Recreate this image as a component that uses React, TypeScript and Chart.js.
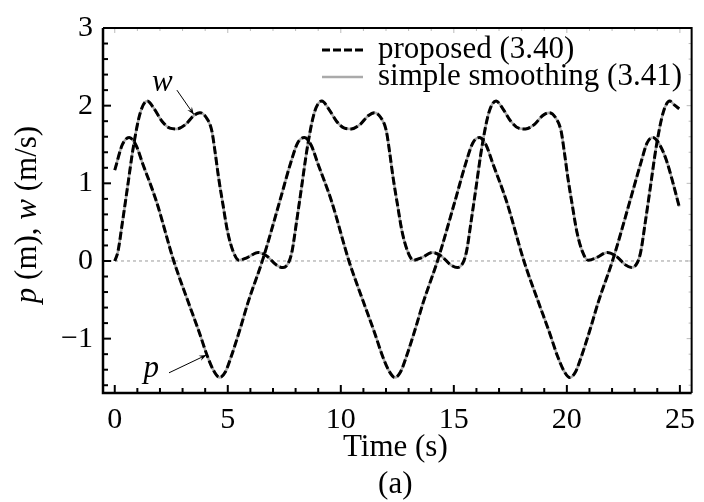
import React, { useEffect, useRef } from 'react';
import { Chart, registerables } from 'chart.js';

Chart.register(...registerables);

// ---- data ----
const P_TIME = [0, 0.34, 0.64, 0.94, 1.24, 1.84, 2.61, 3.24, 3.74, 4.09, 4.39, 4.64, 4.89, 5.14, 5.54, 5.9, 6.56, 7.29, 7.79, 8.09,
  8.39, 8.69, 8.99, 9.59, 10.36, 10.99, 11.49, 11.84, 12.14, 12.39, 12.64, 12.89, 13.29, 13.65, 14.31, 15.04, 15.54, 15.84,
  16.13, 16.43, 16.73, 17.33, 18.1, 18.73, 19.23, 19.58, 19.88, 20.13, 20.38, 20.63, 21.03, 21.39, 22.05, 22.78, 23.28, 23.55,
  23.8, 24.1, 24.4, 24.7, 24.97];
const P_VALUE = [1.17, 1.5, 1.59, 1.49, 1.25, 0.77, 0, -0.52, -0.92, -1.22, -1.42, -1.5, -1.43, -1.24, -0.88, -0.53, 0.03, 0.76, 1.27, 1.52,
  1.59, 1.49, 1.25, 0.77, 0, -0.52, -0.92, -1.22, -1.42, -1.5, -1.43, -1.24, -0.88, -0.53, 0.03, 0.76, 1.27, 1.52,
  1.59, 1.49, 1.25, 0.77, 0, -0.52, -0.92, -1.22, -1.42, -1.5, -1.43, -1.24, -0.88, -0.53, 0.03, 0.76, 1.27, 1.52,
  1.59, 1.5, 1.3, 1.0, 0.7];

const W_TIME = [0, 0.14, 0.34, 0.54, 0.84, 1.14,
  1.44, 1.74, 2.09, 2.44, 2.74, 3.14, 3.49, 3.77, 4.04, 4.29, 4.44, 4.59, 4.79, 4.99, 5.24, 5.49, 5.84, 6.34, 6.74, 7.14, 7.44, 7.69, 7.84, 8.04, 8.24, 8.54, 8.84,
  9.16, 9.46, 9.81, 10.16, 10.46, 10.86, 11.21, 11.49, 11.76, 12.01, 12.16, 12.31, 12.51, 12.71, 12.96, 13.21, 13.56, 14.06, 14.46, 14.86, 15.16, 15.41, 15.56, 15.76, 15.96, 16.26, 16.56,
  16.87, 17.17, 17.52, 17.87, 18.17, 18.57, 18.92, 19.22, 19.49, 19.74, 19.89, 20.04, 20.24, 20.44, 20.69, 20.94, 21.29, 21.79, 22.19, 22.59, 22.87, 23.12, 23.27, 23.47, 23.67, 23.97, 24.27,
  24.55, 24.75, 24.97];
const W_VALUE = [0, 0.12, 0.5, 0.9, 1.5, 1.92,
  2.06, 1.96, 1.8, 1.71, 1.7, 1.76, 1.87, 1.91, 1.85, 1.68, 1.4, 1.08, 0.72, 0.38, 0.12, 0.01, 0.04, 0.11, 0.06, -0.05, -0.085, -0.02, 0.12, 0.5, 0.9, 1.5, 1.92,
  2.06, 1.96, 1.8, 1.71, 1.7, 1.76, 1.87, 1.91, 1.85, 1.68, 1.4, 1.08, 0.72, 0.38, 0.12, 0.01, 0.04, 0.11, 0.06, -0.05, -0.085, -0.02, 0.12, 0.5, 0.9, 1.5, 1.92,
  2.06, 1.96, 1.8, 1.71, 1.7, 1.76, 1.87, 1.91, 1.85, 1.68, 1.4, 1.08, 0.72, 0.38, 0.12, 0.01, 0.04, 0.11, 0.06, -0.05, -0.085, -0.02, 0.12, 0.5, 0.9, 1.5, 1.92,
  2.06, 2.01, 1.96];

const X_TICKS = [0, 5, 10, 15, 20, 25];
const Y_TICKS = [-1, 0, 1, 2, 3];
const X_RANGE = [-0.52, 25.52];
const Y_RANGE = [-1.7, 3.0];

const LEGEND_LABELS = ['proposed (3.40)', 'simple smoothing (3.41)'];
const X_TITLE = 'Time (s)';
const SUBCAPTION = '(a)';
const Y_TITLE_PARTS: [string, boolean][] = [['p', true], [' (m), ', false], ['w', true], [' (m/s)', false]];
const ANNOTATIONS = [
  { text: 'w', label: [2.1, 2.19], from: [2.75, 2.2], to: [3.5, 1.885] },
  { text: 'p', label: [1.62, -1.5], from: [2.4, -1.44], to: [4.06, -1.21] },
];

const SERIF = "'Liberation Serif', 'Times New Roman', serif";
const DASH = [8, 3];
const GRAY = '#aaaaaa';

const toPoints = (ts: number[], vs: number[]) => ts.map((t, i) => ({ x: t, y: vs[i] }));

const decorPlugin = {
  id: 'decor',
  beforeDatasetsDraw(chart: any) {
    const { ctx, chartArea: a, scales } = chart;
    const y0 = scales.y.getPixelForValue(0);
    ctx.save();
    ctx.strokeStyle = '#999';
    ctx.lineWidth = 1;
    ctx.setLineDash([3, 3]);
    ctx.beginPath();
    ctx.moveTo(a.left, y0);
    ctx.lineTo(a.right, y0);
    ctx.stroke();
    ctx.restore();
  },
  afterDraw(chart: any) {
    const { ctx, chartArea: a, scales } = chart;
    const xs = scales.x, ys = scales.y;
    ctx.save();
    // ticks on top/right (gray)
    ctx.strokeStyle = '#bbbbbb';
    ctx.lineWidth = 1;
    for (let i = 0; i <= 25; i++) {
      const px = xs.getPixelForValue(i);
      ctx.beginPath();
      ctx.moveTo(px, a.top);
      ctx.lineTo(px, a.top + (i % 5 === 0 ? 5 : 3));
      ctx.stroke();
    }
    for (let i = -8; i <= 15; i++) {
      const py = ys.getPixelForValue(i * 0.2);
      ctx.beginPath();
      ctx.moveTo(a.right, py);
      ctx.lineTo(a.right - (i % 5 === 0 ? 5 : 3), py);
      ctx.stroke();
    }
    // ticks on left/bottom (black)
    ctx.strokeStyle = '#000';
    ctx.lineWidth = 2;
    for (let i = 0; i <= 25; i++) {
      const px = xs.getPixelForValue(i);
      ctx.beginPath();
      ctx.moveTo(px, a.bottom);
      ctx.lineTo(px, a.bottom - (i % 5 === 0 ? 8 : 5));
      ctx.stroke();
    }
    for (let i = -8; i <= 15; i++) {
      const py = ys.getPixelForValue(i * 0.2);
      ctx.beginPath();
      ctx.moveTo(a.left, py);
      ctx.lineTo(a.left + (i % 5 === 0 ? 8 : 5), py);
      ctx.stroke();
    }
    // frame
    ctx.lineWidth = 2;
    ctx.beginPath();
    ctx.moveTo(a.left, a.top);
    ctx.lineTo(a.right, a.top);
    ctx.lineTo(a.right, a.bottom);
    ctx.stroke();
    ctx.lineWidth = 2.5;
    ctx.beginPath();
    ctx.moveTo(a.left, a.top);
    ctx.lineTo(a.left, a.bottom);
    ctx.lineTo(a.right, a.bottom);
    ctx.stroke();

    // legend
    const lx0 = 322, lx1 = 363, tx = 378;
    const rows = [50, 77];
    ctx.lineWidth = 3;
    ctx.setLineDash(DASH);
    ctx.strokeStyle = '#000';
    ctx.beginPath();
    ctx.moveTo(lx0, rows[0]);
    ctx.lineTo(lx1, rows[0]);
    ctx.stroke();
    ctx.setLineDash([]);
    ctx.strokeStyle = GRAY;
    ctx.lineWidth = 2.5;
    ctx.beginPath();
    ctx.moveTo(lx0, rows[1]);
    ctx.lineTo(lx1, rows[1]);
    ctx.stroke();
    ctx.fillStyle = '#000';
    ctx.font = `31px ${SERIF}`;
    ctx.textAlign = 'left';
    ctx.textBaseline = 'alphabetic';
    ctx.fillText(LEGEND_LABELS[0], tx, rows[0] + 8);
    ctx.fillText(LEGEND_LABELS[1], tx, rows[1] + 8);

    // annotations
    ANNOTATIONS.forEach((an) => {
      const lx = xs.getPixelForValue(an.label[0]);
      const ly = ys.getPixelForValue(an.label[1]);
      ctx.font = `italic 31px ${SERIF}`;
      ctx.textAlign = 'center';
      ctx.fillStyle = '#000';
      ctx.fillText(an.text, lx, ly);
      const fx = xs.getPixelForValue(an.from[0]);
      const fy = ys.getPixelForValue(an.from[1]);
      const tx2 = xs.getPixelForValue(an.to[0]);
      const ty2 = ys.getPixelForValue(an.to[1]);
      ctx.strokeStyle = '#000';
      ctx.lineWidth = 1;
      ctx.beginPath();
      ctx.moveTo(fx, fy);
      ctx.lineTo(tx2, ty2);
      ctx.stroke();
      const ang = Math.atan2(ty2 - fy, tx2 - fx);
      const hl = 8, hw = 0.35;
      ctx.beginPath();
      ctx.moveTo(tx2, ty2);
      ctx.lineTo(tx2 - hl * Math.cos(ang - hw), ty2 - hl * Math.sin(ang - hw));
      ctx.lineTo(tx2 - hl * 0.6 * Math.cos(ang), ty2 - hl * 0.6 * Math.sin(ang));
      ctx.lineTo(tx2 - hl * Math.cos(ang + hw), ty2 - hl * Math.sin(ang + hw));
      ctx.closePath();
      ctx.fill();
    });

    // x title & subcaption
    const cx = (a.left + a.right) / 2;
    ctx.font = `31px ${SERIF}`;
    ctx.textAlign = 'center';
    ctx.fillText(X_TITLE, cx - 2, 456);
    ctx.fillText(SUBCAPTION, cx - 2, 493);

    // y title (mixed italic)
    ctx.translate(36, (a.top + a.bottom) / 2 + 4);
    ctx.rotate(-Math.PI / 2);
    const fontFor = (it: boolean) => `${it ? 'italic ' : ''}31px ${SERIF}`;
    let total = 0;
    Y_TITLE_PARTS.forEach(([s, it]) => { ctx.font = fontFor(it); total += ctx.measureText(s).width; });
    let x = -total / 2;
    ctx.textAlign = 'left';
    Y_TITLE_PARTS.forEach(([s, it]) => {
      ctx.font = fontFor(it);
      ctx.fillText(s, x, 0);
      x += ctx.measureText(s).width;
    });
    ctx.restore();
  },
};

export default function App() {
  const ref = useRef<HTMLCanvasElement>(null);
  useEffect(() => {
    document.body.style.margin = '0';
    const canvas = ref.current!;
    const common = { pointRadius: 0, fill: false, cubicInterpolationMode: 'monotone' as const };
    const chart = new Chart(canvas, {
      type: 'line',
      data: {
        datasets: [
          { label: 'p proposed', data: toPoints(P_TIME, P_VALUE), borderColor: '#000', borderWidth: 3, borderDash: DASH, ...common },
          { label: 'w proposed', data: toPoints(W_TIME, W_VALUE), borderColor: '#000', borderWidth: 3, borderDash: DASH, ...common },
          { label: 'p smoothing', data: toPoints(P_TIME, P_VALUE), borderColor: GRAY, borderWidth: 2.5, ...common },
          { label: 'w smoothing', data: toPoints(W_TIME, W_VALUE), borderColor: GRAY, borderWidth: 2.5, ...common },
        ],
      },
      options: {
        animation: false,
        responsive: false,
        devicePixelRatio: 1,
        layout: { padding: { top: 25, right: 6, left: 0, bottom: 0 } },
        plugins: { legend: { display: false }, tooltip: { enabled: false } },
        scales: {
          x: {
            type: 'linear',
            min: X_RANGE[0],
            max: X_RANGE[1],
            grid: { display: false, drawTicks: false },
            border: { display: false },
            ticks: { font: { family: SERIF, size: 30 }, color: '#000', padding: 9, maxRotation: 0 },
            afterBuildTicks: (s: any) => { s.ticks = X_TICKS.map((v) => ({ value: v })); },
            afterFit: (s: any) => { s.height = 109; },
          },
          y: {
            type: 'linear',
            min: Y_RANGE[0],
            max: Y_RANGE[1],
            grid: { display: false, drawTicks: false },
            border: { display: false },
            ticks: {
              font: { family: SERIF, size: 30 },
              color: '#000',
              padding: 10,
              callback: (v: any) => (Number(v) < 0 ? '\u2212' + Math.abs(Number(v)) : String(v)),
            },
            afterBuildTicks: (s: any) => { s.ticks = Y_TICKS.map((v) => ({ value: v })); },
            afterFit: (s: any) => { s.width = 103; },
          },
        },
      },
      plugins: [decorPlugin],
    });
    return () => chart.destroy();
  }, []);
  return <canvas ref={ref} width={704} height={502} style={{ display: 'block' }} />;
}
